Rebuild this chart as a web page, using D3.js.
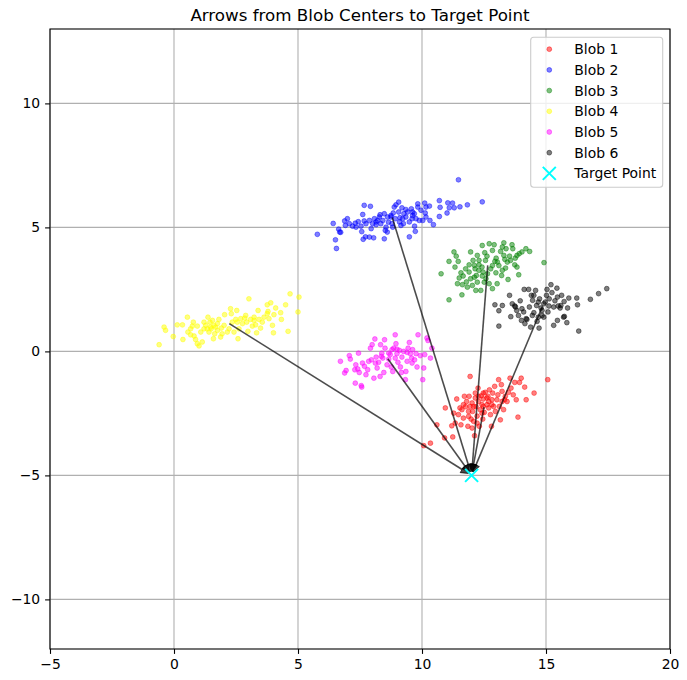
<!DOCTYPE html>
<html>
<head>
<meta charset="utf-8">
<script src="https://cdn.jsdelivr.net/npm/d3@7"></script>
<style>
  body { margin: 0; background: #fff; }
  svg { display: block; font-family: "DejaVu Sans", sans-serif; }
</style>
</head>
<body>
<svg id="chart" width="687" height="680"></svg>
<script>
// ---------- data ----------
const title = "Arrows from Blob Centers to Target Point";
const xTicks = [-5, 0, 5, 10, 15, 20];
const yTicks = [-10, -5, 0, 5, 10];
const xDomain = [-5, 20];
const yDomain = [-12, 13];
const seriesNames = ["Blob 1", "Blob 2", "Blob 3", "Blob 4", "Blob 5", "Blob 6"];
const seriesColors = ["red", "blue", "green", "yellow", "magenta", "black"];
const targetPoint = [12, -5];
const targetLabel = "Target Point";

const blob1 = [[10.07,-3.80],[10.34,-3.70],[10.60,-2.96],[10.94,-2.28],[10.91,-3.49],[11.24,-3.45],[11.28,-2.49],[11.34,-2.89],[11.40,-1.92],[11.47,-2.55],[11.53,-2.28],[11.57,-2.96],[11.67,-2.69],[11.71,-1.81],[11.76,-2.23],[11.85,-3.02],[11.88,-2.42],[11.90,-1.81],[11.94,-1.01],[11.98,-2.73],[12.02,-2.08],[12.04,-2.42],[12.08,-2.82],[12.12,-3.40],[12.15,-1.88],[12.18,-2.23],[12.22,-2.61],[12.26,-1.48],[12.28,-2.02],[12.31,-3.02],[12.35,-2.35],[12.39,-1.79],[12.42,-2.15],[12.45,-2.73],[12.47,-1.92],[12.51,-2.46],[12.55,-1.65],[12.62,-2.15],[12.66,-1.81],[12.69,-2.28],[12.72,-1.55],[12.76,-2.55],[12.80,-3.02],[12.82,-1.95],[12.85,-1.68],[12.89,-2.22],[12.93,-1.41],[12.96,-2.42],[13.02,-1.95],[13.06,-1.75],[13.09,-1.14],[13.12,-2.22],[13.16,-2.76],[13.20,-1.34],[13.23,-1.61],[13.29,-2.35],[13.33,-1.95],[13.36,-1.81],[13.43,-2.02],[13.49,-1.65],[13.55,-1.08],[13.59,-1.48],[13.68,-1.75],[13.74,-1.25],[13.80,-1.95],[13.87,-2.65],[13.93,-1.25],[14.00,-1.08],[14.14,-1.44],[14.20,-1.95],[14.52,-1.68],[15.07,-1.14],[11.20,-3.00],[11.61,-2.35],[11.80,-2.02],[12.08,-2.22],[12.15,-1.68],[12.47,-2.22],[12.28,-1.81],[12.62,-1.88],[12.82,-2.15],[12.42,-2.49],[12.22,-2.89],[12.69,-2.02],[11.88,-2.62],[11.67,-2.15],[13.23,-2.02],[12.02,-3.09],[12.47,-1.68],[11.94,-2.22]];

const blob2 = [[11.47,6.92],[5.78,4.72],[6.51,4.50],[6.55,4.15],[6.42,5.16],[6.64,4.93],[6.72,4.80],[6.88,5.26],[6.99,5.35],[6.91,5.08],[7.20,5.05],[7.31,5.17],[7.43,5.23],[7.54,5.05],[7.61,5.52],[7.67,5.89],[7.92,5.85],[7.67,5.26],[7.74,5.15],[7.57,4.83],[7.72,4.62],[7.63,4.52],[7.88,4.61],[8.05,4.58],[7.95,4.95],[8.08,5.35],[8.15,5.11],[8.31,5.51],[8.42,5.28],[8.48,4.54],[8.60,4.81],[8.55,5.01],[8.75,5.42],[8.79,5.15],[8.88,5.82],[8.95,5.91],[9.06,6.02],[8.84,5.58],[9.06,5.62],[9.11,5.39],[9.19,5.79],[9.27,5.55],[9.35,5.72],[9.25,5.15],[9.15,5.08],[9.49,4.62],[9.57,5.75],[9.62,5.48],[9.69,5.55],[9.76,5.35],[9.83,5.95],[9.89,5.28],[9.83,5.82],[9.70,5.05],[9.73,4.84],[10.11,5.98],[10.16,5.82],[10.30,5.86],[10.13,5.58],[10.32,5.28],[10.46,5.11],[10.16,5.42],[10.70,6.08],[10.73,5.81],[10.70,5.44],[11.01,5.58],[11.04,5.99],[11.10,5.79],[11.23,5.98],[11.30,5.79],[11.53,5.83],[11.83,5.91],[12.43,6.03],[8.48,5.55],[8.52,4.88],[8.65,5.21],[8.21,5.28],[8.34,5.15],[7.88,5.28],[8.01,5.15],[7.34,5.01],[9.35,5.42],[9.49,5.22],[8.92,5.35],[9.60,5.35],[9.96,5.69],[8.75,5.48],[8.82,5.01],[7.07,5.15],[6.68,4.81],[9.09,5.22],[9.42,5.62],[9.62,5.62],[8.28,5.42],[8.61,5.42],[9.22,5.35],[10.03,5.28],[8.15,5.22]];

const blob3 = [[10.77,3.13],[11.09,2.08],[11.09,3.63],[11.29,4.01],[11.38,3.84],[11.46,3.63],[11.33,3.40],[11.61,2.28],[11.50,2.96],[11.57,3.17],[11.66,3.04],[11.76,3.33],[11.79,2.80],[11.43,2.73],[11.63,2.69],[11.83,2.59],[11.96,4.01],[12.03,2.66],[11.90,3.49],[12.06,3.67],[12.14,3.33],[12.17,2.46],[12.19,3.06],[12.23,3.87],[12.30,3.49],[12.37,2.46],[12.43,4.27],[12.46,3.20],[12.53,3.98],[12.56,3.67],[12.62,3.84],[12.58,2.93],[12.71,4.34],[12.77,3.33],[12.84,4.07],[12.91,4.30],[12.71,2.73],[12.84,2.53],[12.94,3.63],[12.99,3.76],[13.03,2.73],[13.10,3.46],[13.17,4.03],[13.21,3.06],[13.24,4.21],[13.30,4.38],[13.34,3.71],[13.37,3.36],[13.39,4.14],[13.47,2.90],[13.53,3.84],[13.63,4.30],[13.66,4.14],[13.74,3.49],[13.76,3.76],[13.83,3.40],[13.90,3.09],[13.92,3.94],[14.03,4.01],[14.19,4.14],[14.34,4.03],[14.92,3.58],[12.11,2.99],[12.29,3.27],[12.42,3.40],[12.51,2.79],[12.64,3.13],[12.98,3.17],[13.04,3.60],[13.44,3.60],[13.57,3.67],[11.90,3.20],[11.96,2.93],[12.23,2.79],[12.30,3.67],[12.84,3.46],[13.30,3.87],[13.83,3.87],[12.43,3.04],[12.11,3.47],[13.24,3.27]];

const blob4 = [[-0.60,0.27],[-0.40,0.98],[-0.34,0.85],[-0.03,0.60],[0.13,1.07],[0.34,1.07],[0.36,0.48],[0.54,1.38],[0.56,0.78],[0.67,0.91],[0.74,1.02],[0.78,1.18],[0.81,0.62],[0.87,0.48],[0.94,0.31],[1.01,0.22],[1.08,0.78],[1.14,0.38],[1.21,0.91],[1.28,1.05],[1.37,1.38],[1.41,0.78],[1.45,1.18],[1.50,0.91],[1.55,1.25],[1.59,0.51],[1.64,0.71],[1.68,0.98],[1.75,1.12],[1.81,1.29],[1.88,0.58],[1.91,0.94],[1.94,0.71],[2.02,1.05],[2.04,1.48],[2.15,0.78],[2.22,0.91],[2.28,1.72],[2.31,1.52],[2.35,1.18],[2.42,0.78],[2.49,1.29],[2.53,1.65],[2.58,0.51],[2.62,0.91],[2.69,1.32],[2.76,1.12],[2.85,1.34],[2.93,1.18],[2.98,0.81],[3.02,2.12],[3.09,1.29],[3.16,1.02],[3.23,1.38],[3.29,1.07],[3.33,0.75],[3.39,1.65],[3.43,1.29],[3.49,0.94],[3.56,1.18],[3.63,1.38],[3.76,1.88],[3.79,1.61],[3.83,1.32],[3.90,1.96],[3.97,1.05],[4.03,1.48],[4.10,1.75],[4.01,0.75],[4.30,1.56],[4.33,1.29],[4.50,1.88],[4.60,0.81],[4.68,2.32],[5.00,1.59],[5.04,2.19],[1.21,1.18],[1.48,0.98],[1.75,0.85],[1.61,1.05],[1.34,0.91],[2.89,1.45],[3.23,1.25],[2.55,1.18],[0.94,1.02],[0.67,0.67],[3.76,1.52]];

const blob5 = [[6.71,-0.40],[6.88,-0.87],[6.94,-0.77],[7.07,-0.17],[7.11,-0.31],[7.29,-0.74],[7.31,-1.28],[7.33,-0.54],[7.41,-0.71],[7.44,-0.07],[7.47,-0.85],[7.55,-1.38],[7.60,-0.47],[7.68,-0.60],[7.74,-0.94],[7.81,-0.74],[7.92,0.13],[7.96,-0.34],[7.99,0.27],[8.06,-1.08],[8.10,0.50],[8.15,-0.23],[8.19,-0.67],[8.25,-0.44],[8.31,-1.01],[8.33,0.27],[8.38,-0.07],[8.42,-0.27],[8.46,-0.85],[8.49,0.47],[8.51,0.13],[8.59,-0.54],[8.66,-0.31],[8.72,-0.13],[8.76,-0.63],[8.82,-0.81],[8.86,0.13],[8.92,0.67],[8.95,0.31],[8.99,-0.09],[9.03,-0.44],[9.09,0.04],[9.13,-0.63],[9.17,-0.85],[9.19,-0.23],[9.33,-1.14],[9.35,-0.81],[9.40,-0.40],[9.44,0.13],[9.49,0.36],[9.53,-0.09],[9.58,-0.27],[9.62,0.07],[9.70,-0.34],[9.76,-0.09],[9.80,-0.63],[9.84,0.67],[9.93,-0.17],[10.03,-1.14],[10.07,-0.67],[10.11,-0.13],[10.20,0.54],[10.24,0.44],[10.34,-0.27],[10.40,0.13],[8.79,0.07],[8.66,-0.07],[9.26,0.00],[8.92,-0.27],[8.36,-0.20],[7.85,-0.40],[8.99,0.09],[9.40,-0.04],[8.12,-0.47],[9.60,-0.47],[7.57,-1.44]];

const blob6 = [[12.94,1.88],[13.10,1.64],[13.10,1.02],[13.24,1.85],[13.53,2.26],[13.64,1.92],[13.74,1.83],[13.58,1.40],[13.82,1.65],[13.89,1.45],[13.96,2.04],[14.01,1.25],[14.10,1.59],[14.12,2.50],[14.15,1.12],[14.23,1.29],[14.30,2.50],[14.33,1.79],[14.38,0.98],[14.41,2.26],[14.46,2.06],[14.51,1.56],[14.58,2.46],[14.62,1.85],[14.64,1.21],[14.72,0.94],[14.74,2.12],[14.80,1.75],[14.84,1.45],[14.91,1.38],[14.97,1.99],[15.04,2.50],[15.02,2.26],[15.12,1.83],[15.20,2.69],[15.24,2.37],[15.31,1.79],[15.36,2.04],[15.44,2.55],[15.46,2.19],[15.49,1.83],[15.57,1.75],[15.63,2.26],[15.71,1.38],[15.73,2.01],[15.87,1.75],[15.84,1.16],[15.92,2.15],[16.24,2.15],[16.27,1.88],[16.32,0.82],[15.31,1.05],[15.46,1.25],[16.79,2.10],[17.12,2.33],[17.45,2.53],[14.20,1.32],[14.51,2.26],[14.69,1.38],[15.08,1.59],[14.91,1.92],[13.77,1.79],[14.45,1.45],[14.03,1.72],[15.13,2.12],[15.60,1.85],[14.69,1.99],[14.84,1.65],[15.74,1.41]];

// arrow start points (blob centers)
const centerX = [12.50, 8.80, 12.65, 2.23, 8.62, 14.85];
const centerY = [-2.25, 5.40, 3.47, 1.12, -0.30, 1.80];

const blobs = [blob1, blob2, blob3, blob4, blob5, blob6];

// ---------- layout ----------
const W = 687, H = 680;
const plot = { left: 50, right: 670, top: 29, bottom: 649 };
const svg = d3.select("#chart");

const x = d3.scaleLinear().domain(xDomain).range([plot.left, plot.right]);
const y = d3.scaleLinear().domain(yDomain).range([plot.bottom, plot.top]);

svg.append("defs").append("clipPath").attr("id", "clip")
  .append("rect").attr("x", plot.left).attr("y", plot.top)
  .attr("width", plot.right - plot.left).attr("height", plot.bottom - plot.top);

// grid
const grid = svg.append("g");
grid.selectAll("line.gx").data(xTicks).join("line")
  .attr("x1", d => x(d)).attr("x2", d => x(d))
  .attr("y1", plot.top).attr("y2", plot.bottom)
  .attr("stroke", "#b0b0b0").attr("stroke-width", 1.1);
grid.selectAll("line.gy").data(yTicks).join("line")
  .attr("y1", d => y(d)).attr("y2", d => y(d))
  .attr("x1", plot.left).attr("x2", plot.right)
  .attr("stroke", "#b0b0b0").attr("stroke-width", 1.1);

const g = svg.append("g").attr("clip-path", "url(#clip)");

// scatter
blobs.forEach((pts, i) => {
  g.append("g").selectAll("circle").data(pts).join("circle")
    .attr("cx", d => x(d[0])).attr("cy", d => y(d[1]))
    .attr("r", 2.4)
    .attr("fill", seriesColors[i]).attr("fill-opacity", 0.5)
    .attr("stroke", seriesColors[i]).attr("stroke-opacity", 0.5).attr("stroke-width", 0.9);
});

// arrows
const headLen = 0.3, headW = 0.3, shortBy = 0.15;
centerX.forEach((cx, i) => {
  const cy = centerY[i];
  const dx = targetPoint[0] - cx, dy = targetPoint[1] - cy;
  const len = Math.hypot(dx, dy);
  const ux = dx / len, uy = dy / len;
  const tipX = targetPoint[0] - ux * shortBy, tipY = targetPoint[1] - uy * shortBy;
  const baseX = tipX - ux * headLen, baseY = tipY - uy * headLen;
  const px = -uy, py = ux;
  g.append("line")
    .attr("x1", x(cx)).attr("y1", y(cy)).attr("x2", x(baseX)).attr("y2", y(baseY))
    .attr("stroke", "black").attr("stroke-opacity", 0.7).attr("stroke-width", 1.6);
  const tri = [
    [x(tipX), y(tipY)],
    [x(baseX + px * headW / 2), y(baseY + py * headW / 2)],
    [x(baseX - px * headW / 2), y(baseY - py * headW / 2)]
  ];
  g.append("path").attr("d", "M" + tri.map(p => p.join(",")).join("L") + "Z")
    .attr("fill", "black").attr("fill-opacity", 0.7)
    .attr("stroke", "black").attr("stroke-opacity", 0.7).attr("stroke-width", 1);
});

// target marker
const tx = x(targetPoint[0]), ty = y(targetPoint[1]), ts = 6.5;
g.append("path")
  .attr("d", `M${tx - ts},${ty - ts}L${tx + ts},${ty + ts}M${tx - ts},${ty + ts}L${tx + ts},${ty - ts}`)
  .attr("stroke", "cyan").attr("stroke-width", 2).attr("fill", "none");

// axes
const fmt = d => d < 0 ? "\u2212" + Math.abs(d) : String(d);
const xAxis = svg.append("g").attr("transform", `translate(0,${plot.bottom})`)
  .call(d3.axisBottom(x).tickValues(xTicks).tickFormat(fmt).tickSizeInner(4.9).tickSizeOuter(0).tickPadding(4.9));
const yAxis = svg.append("g").attr("transform", `translate(${plot.left},0)`)
  .call(d3.axisLeft(y).tickValues(yTicks).tickFormat(fmt).tickSizeInner(4.9).tickSizeOuter(0).tickPadding(4.9));
[xAxis, yAxis].forEach(a => {
  a.select(".domain").remove();
  a.selectAll("line").attr("stroke", "black").attr("stroke-width", 1.1);
  a.selectAll("text").attr("font-family", "DejaVu Sans").attr("font-size", 13.9).attr("fill", "black");
});

// frame
svg.append("rect").attr("x", plot.left).attr("y", plot.top)
  .attr("width", plot.right - plot.left).attr("height", plot.bottom - plot.top)
  .attr("fill", "none").attr("stroke", "black").attr("stroke-width", 1.1);

// title
svg.append("text").attr("x", (plot.left + plot.right) / 2).attr("y", plot.top - 8.3)
  .attr("text-anchor", "middle").attr("font-size", 16.7).attr("fill", "black")
  .text(title);

// legend
const leg = svg.append("g");
leg.append("rect").attr("x", 530.7).attr("y", 37.3).attr("width", 132).attr("height", 150)
  .attr("rx", 3).attr("fill", "white").attr("fill-opacity", 0.8)
  .attr("stroke", "#cccccc").attr("stroke-width", 1.1);
const rowY = i => 49.2 + i * 20.7;
seriesNames.forEach((name, i) => {
  leg.append("circle").attr("cx", 549.3).attr("cy", rowY(i)).attr("r", 2.4)
    .attr("fill", seriesColors[i]).attr("fill-opacity", 0.5)
    .attr("stroke", seriesColors[i]).attr("stroke-opacity", 0.5).attr("stroke-width", 0.9);
  leg.append("text").attr("x", 574.3).attr("y", rowY(i)).attr("dy", "0.36em")
    .attr("font-size", 13.9).attr("fill", "black").text(name);
});
{
  const ly = rowY(6), lx = 549.3;
  leg.append("path")
    .attr("d", `M${lx - ts},${ly - ts}L${lx + ts},${ly + ts}M${lx - ts},${ly + ts}L${lx + ts},${ly - ts}`)
    .attr("stroke", "cyan").attr("stroke-width", 2).attr("fill", "none");
  leg.append("text").attr("x", 574.3).attr("y", ly).attr("dy", "0.36em")
    .attr("font-size", 13.9).attr("fill", "black").text(targetLabel);
}
</script>
</body>
</html>
